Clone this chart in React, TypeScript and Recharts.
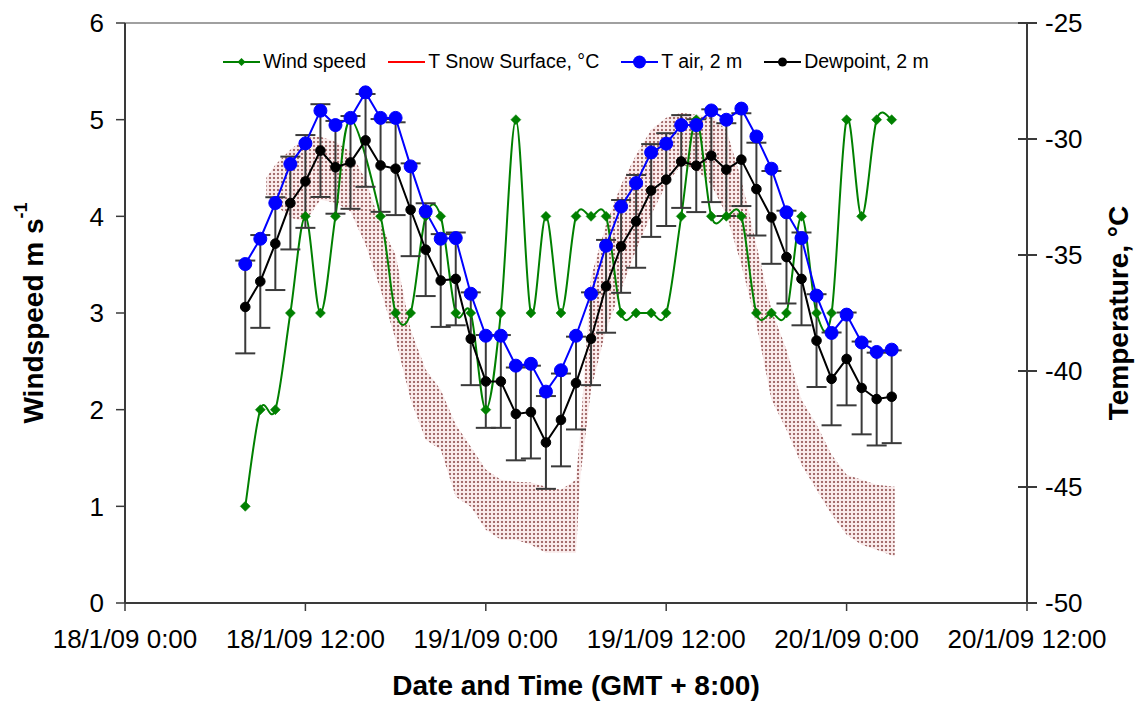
import React from 'react';
import { ComposedChart, Line, Area, XAxis, YAxis, ErrorBar, ReferenceLine, Legend } from 'recharts';

// ---- Data (hours since 18/1/09 0:00, GMT + 8:00) ----
const hours = [8, 9, 10, 11, 12, 13, 14, 15, 16, 17, 18, 19, 20, 21, 22, 23, 24, 25, 26, 27, 28, 29,
  30, 31, 32, 33, 34, 35, 36, 37, 38, 39, 40, 41, 42, 43, 44, 45, 46, 47, 48, 49, 50, 51];

const windSpeed = [1, 2, 2, 3, 4, 3, 4, 5, null, 4, 3, 3, 4, 4, 3, 3, 2, 3, 5, 3, 4, 3,
  4, 4, 4, 3, 3, 3, 3, 4, 5, 4, 4, 4, 3, 3, 3, 4, 3, 3, 5, 4, 5, 5];

const tAir = [-35.39, -34.30, -32.76, -31.08, -30.19, -28.78, -29.40, -29.09, -27.99, -29.09, -29.09,
  -31.18, -33.12, -34.30, -34.27, -36.67, -38.48, -38.48, -39.77, -39.69, -40.89, -39.97, -38.48,
  -36.67, -34.60, -32.91, -31.90, -30.58, -30.20, -29.40, -29.40, -28.77, -29.17, -28.69, -29.89,
  -31.28, -33.16, -34.27, -36.75, -38.36, -37.57, -38.77, -39.18, -39.08];

const dewpoint = [-37.24, -36.14, -34.51, -32.76, -31.83, -30.50, -31.22, -31.01, -30.06, -31.14,
  -31.28, -33.05, -34.77, -36.10, -36.03, -38.61, -40.45, -40.45, -41.85, -41.77, -43.08, -42.11,
  -40.52, -38.61, -36.35, -34.63, -33.55, -32.22, -31.75, -30.97, -31.15, -30.72, -31.32, -30.89,
  -32.16, -33.38, -35.09, -36.03, -38.69, -40.34, -39.48, -40.73, -41.21, -41.11];

const dewpointError = 2.0;

const snowHours = [9.4, 10, 11, 12, 13, 14, 15, 16, 17, 18, 19, 20, 21, 22, 23, 24, 25, 26, 27, 28, 29, 30,
  30.3, 31, 32, 33, 34, 35, 36, 37, 38, 39, 40, 41, 42, 43, 44, 45, 46, 47, 48, 49, 50, 51.2];
const snowHigh = [-31.67, -31.11, -30.46, -29.94, -29.90, -30.12, -30.55, -31.75, -33.69, -34.99, -38.22,
  -39.94, -40.81, -42.31, -43.26, -44.25, -44.69, -44.77, -44.81, -44.99, -45.12, -44.69, -42.5, -35.94,
  -33.69, -31.97, -30.68, -29.60, -29.08, -28.87, -28.95, -29.04, -29.60, -31.75, -34.56, -37.36, -39.08,
  -41.24, -42.31, -43.61, -44.47, -44.69, -44.90, -44.99];
const snowLow = [-32.40, -32.83, -33.39, -33.56, -32.62, -32.75, -33.13, -34.56, -36.50, -38.65, -41.24,
  -42.96, -43.39, -45.42, -45.85, -46.84, -47.27, -47.27, -47.49, -47.83, -47.83, -47.83, -44.5, -40.81,
  -38.22, -36.50, -34.77, -33.26, -31.97, -31.11, -31.32, -31.97, -33.26, -35.42, -38.00, -41.24, -42.53,
  -44.04, -45.12, -46.19, -47.06, -47.49, -47.70, -48.00];

const xTickHours = [0, 12, 24, 36, 48, 60];
const xTickLabels = ['18/1/09 0:00', '18/1/09 12:00', '19/1/09 0:00', '19/1/09 12:00', '20/1/09 0:00', '20/1/09 12:00'];
const windTicks = [0, 1, 2, 3, 4, 5, 6];
const tempTicks = [-50, -45, -40, -35, -30, -25];

const windData = hours.map((h, i) => ({ h, wind: windSpeed[i] }));
const tAirData = hours.map((h, i) => ({ h, tair: tAir[i] }));
const dewData = hours.map((h, i) => ({ h, dew: dewpoint[i], err: dewpointError }));
const snowData = snowHours.map((h, i) => ({ h, range: [snowLow[i], snowHigh[i]] }));

// ---- Styling ----
const FONT = "'Liberation Sans', Arial, sans-serif";
const AXIS_COLOR = '#3a3a3a';
const TICK_FONT = 26;
const TITLE_FONT = 28;

// Excel-like smoothed line (Catmull-Rom through the points)
function excelSmooth(context: any) {
  let pts: number[][] = [];
  return {
    areaStart() {},
    areaEnd() {},
    lineStart() { pts = []; },
    point(x: number, y: number) { pts.push([+x, +y]); },
    lineEnd() {
      if (!pts.length) return;
      context.moveTo(pts[0][0], pts[0][1]);
      for (let i = 0; i < pts.length - 1; i++) {
        const p0 = pts[i - 1] || pts[i];
        const p1 = pts[i];
        const p2 = pts[i + 1];
        const p3 = pts[i + 2] || p2;
        context.bezierCurveTo(
          p1[0] + (p2[0] - p0[0]) / 6, p1[1] + (p2[1] - p0[1]) / 6,
          p2[0] - (p3[0] - p1[0]) / 6, p2[1] - (p3[1] - p1[1]) / 6,
          p2[0], p2[1]
        );
      }
    },
  };
}

const DiamondDot = (props: any) => {
  const { cx, cy, index } = props;
  if (cx == null || cy == null || props.value == null) return <g key={`d${index}`} />;
  const r = 5;
  return <path key={`d${index}`} d={`M${cx},${cy - r}L${cx + r},${cy}L${cx},${cy + r}L${cx - r},${cy}Z`} fill="#008000" stroke="#008000" strokeWidth={0.5} />;
};
const BlueDot = (props: any) => {
  const { cx, cy, index } = props;
  if (cx == null || cy == null) return <g key={`b${index}`} />;
  return <circle key={`b${index}`} cx={cx} cy={cy} r={6.5} fill="#0000FF" stroke="#0000FF" />;
};
const BlackDot = (props: any) => {
  const { cx, cy, index } = props;
  if (cx == null || cy == null) return <g key={`k${index}`} />;
  return <circle key={`k${index}`} cx={cx} cy={cy} r={4.8} fill="#000" stroke="#000" />;
};

const RightTick = (props: any) => {
  const { x, y, payload } = props;
  const axisX = x - 18;
  return (
    <g>
      <line x1={axisX - 9} x2={axisX} y1={y} y2={y} stroke={AXIS_COLOR} strokeWidth={2} />
      <text x={x} y={y} dy="0.36em" textAnchor="start" fontSize={TICK_FONT} fill="#000" fontFamily={FONT}>{payload.value}</text>
    </g>
  );
};

const LeftTitle = (props: any) => {
  const vb = props.viewBox || { x: 0, y: 23, width: 125, height: 580 };
  const cx = vb.x + 33;
  const cy = vb.y + vb.height / 2;
  return (
    <text transform={`translate(${cx},${cy}) rotate(-90)`} textAnchor="middle" dominantBaseline="central"
      fontSize={TITLE_FONT} fontWeight={700} fontFamily={FONT} fill="#000">
      Windspeed m s<tspan dy={-12} fontSize={18}>-1</tspan>
    </text>
  );
};
const RightTitle = (props: any) => {
  const vb = props.viewBox || { x: 1027, y: 23, width: 110, height: 580 };
  const cx = vb.x + 91;
  const cy = vb.y + vb.height / 2;
  return (
    <text transform={`translate(${cx},${cy}) rotate(-90)`} textAnchor="middle" dominantBaseline="central"
      fontSize={TITLE_FONT} fontWeight={700} fontFamily={FONT} fill="#000">
      Temperature, °C
    </text>
  );
};
const BottomTitle = (props: any) => {
  const vb = props.viewBox || { x: 125, y: 603, width: 902, height: 99 };
  return (
    <text x={vb.x + vb.width / 2} y={vb.y + 92} textAnchor="middle" fontSize={TITLE_FONT} fontWeight={700} fontFamily={FONT} fill="#000">
      Date and Time (GMT + 8:00)
    </text>
  );
};

const legendItems = [
  { label: 'Wind speed', color: '#008000', marker: 'diamond' },
  { label: 'T Snow Surface, °C', color: '#FF0000', marker: 'none' },
  { label: 'T air, 2 m', color: '#0000FF', marker: 'big' },
  { label: 'Dewpoint, 2 m', color: '#000000', marker: 'small' },
];

const LegendContent = () => (
  <div style={{ display: 'flex', justifyContent: 'center', alignItems: 'center', fontFamily: FONT, fontSize: 19.5, color: '#000' }}>
    {legendItems.map((it, i) => (
      <div key={it.label} style={{ display: 'flex', alignItems: 'center', marginLeft: i === 0 ? 0 : 22 }}>
        <svg width={37} height={20} style={{ display: 'block' }}>
          <line x1={0} x2={37} y1={10} y2={10} stroke={it.color} strokeWidth={2} />
          {it.marker === 'diamond' && <path d="M18.5,6L22.5,10L18.5,14L14.5,10Z" fill={it.color} />}
          {it.marker === 'big' && <circle cx={18.5} cy={10} r={6.5} fill={it.color} />}
          {it.marker === 'small' && <circle cx={18.5} cy={10} r={4.5} fill={it.color} />}
        </svg>
        <span style={{ marginLeft: 3, whiteSpace: 'nowrap' }}>{it.label}</span>
      </div>
    ))}
  </div>
);

export default function App() {
  return (
    <div style={{ position: 'absolute', left: 0, top: 0, width: 1137, height: 702, background: '#fff', fontFamily: FONT }}>
      <ComposedChart width={1137} height={702} margin={{ top: 23, right: 0, bottom: 0, left: 0 }} style={{ fontFamily: FONT }}>
        <defs>
          <pattern id="snowDots" width="4" height="4" patternUnits="userSpaceOnUse">
            <rect width="4" height="4" fill="#fbf0f0" />
            <rect x="0.6" y="0.6" width="2.8" height="2.8" fill="#f0d4d4" />
            <rect x="1.2" y="1.2" width="1.6" height="1.6" fill="#6a1a1a" />
          </pattern>
        </defs>
        <XAxis
          dataKey="h"
          type="number"
          domain={[0, 60]}
          ticks={xTickHours}
          allowDataOverflow
          height={99}
          tickFormatter={(v: number) => xTickLabels[xTickHours.indexOf(v)] ?? ''}
          tick={{ fontSize: TICK_FONT, fill: '#000', fontFamily: FONT }}
          tickSize={8}
          tickMargin={19}
          stroke={AXIS_COLOR}
          axisLine={{ stroke: AXIS_COLOR, strokeWidth: 2 }}
          tickLine={{ stroke: AXIS_COLOR, strokeWidth: 1.5 }}
          interval={0}
          label={<BottomTitle />}
        />
        <YAxis
          yAxisId="left"
          type="number"
          domain={[0, 6]}
          ticks={windTicks}
          width={125}
          tick={{ fontSize: TICK_FONT, fill: '#000', fontFamily: FONT }}
          tickSize={9}
          tickMargin={12}
          axisLine={{ stroke: AXIS_COLOR, strokeWidth: 2 }}
          tickLine={{ stroke: AXIS_COLOR, strokeWidth: 1.5 }}
          interval={0}
          label={<LeftTitle />}
        />
        <YAxis
          yAxisId="right"
          orientation="right"
          type="number"
          domain={[-50, -25]}
          ticks={tempTicks}
          width={110}
          tick={<RightTick />}
          tickSize={10}
          tickMargin={8}
          axisLine={{ stroke: AXIS_COLOR, strokeWidth: 2 }}
          tickLine={{ stroke: AXIS_COLOR, strokeWidth: 2 }}
          interval={0}
          label={<RightTitle />}
        />
        <ReferenceLine yAxisId="left" y={6} stroke="#a0a0a0" strokeWidth={2} />
        <Legend
          verticalAlign="middle"
          align="center"
          layout="horizontal"
          content={<LegendContent />}
          wrapperStyle={{ position: 'absolute', top: 50, left: 125, width: 902, height: 24 }}
        />
        <Line
          yAxisId="left"
          data={windData}
          dataKey="wind"
          type={excelSmooth as any}
          stroke="#008000"
          strokeWidth={2}
          connectNulls
          dot={(p: any) => <DiamondDot {...p} key={`dd${p.index}`} />}
          activeDot={false}
          isAnimationActive={false}
        />
        <Area
          yAxisId="right"
          data={snowData}
          dataKey="range"
          type="linear"
          stroke="none"
          fill="url(#snowDots)"
          fillOpacity={0.9}
          dot={false}
          activeDot={false}
          isAnimationActive={false}
        />
        <Line
          yAxisId="right"
          data={dewData}
          dataKey="dew"
          type="linear"
          stroke="#000"
          strokeWidth={2}
          dot={(p: any) => <BlackDot {...p} key={`bd${p.index}`} />}
          activeDot={false}
          isAnimationActive={false}
        >
          <ErrorBar dataKey="err" direction="y" width={10} stroke={AXIS_COLOR} strokeWidth={2} />
        </Line>
        <Line
          yAxisId="right"
          data={tAirData}
          dataKey="tair"
          type="linear"
          stroke="#0000FF"
          strokeWidth={2}
          dot={(p: any) => <BlueDot {...p} key={`ba${p.index}`} />}
          activeDot={false}
          isAnimationActive={false}
        />
      </ComposedChart>
    </div>
  );
}
